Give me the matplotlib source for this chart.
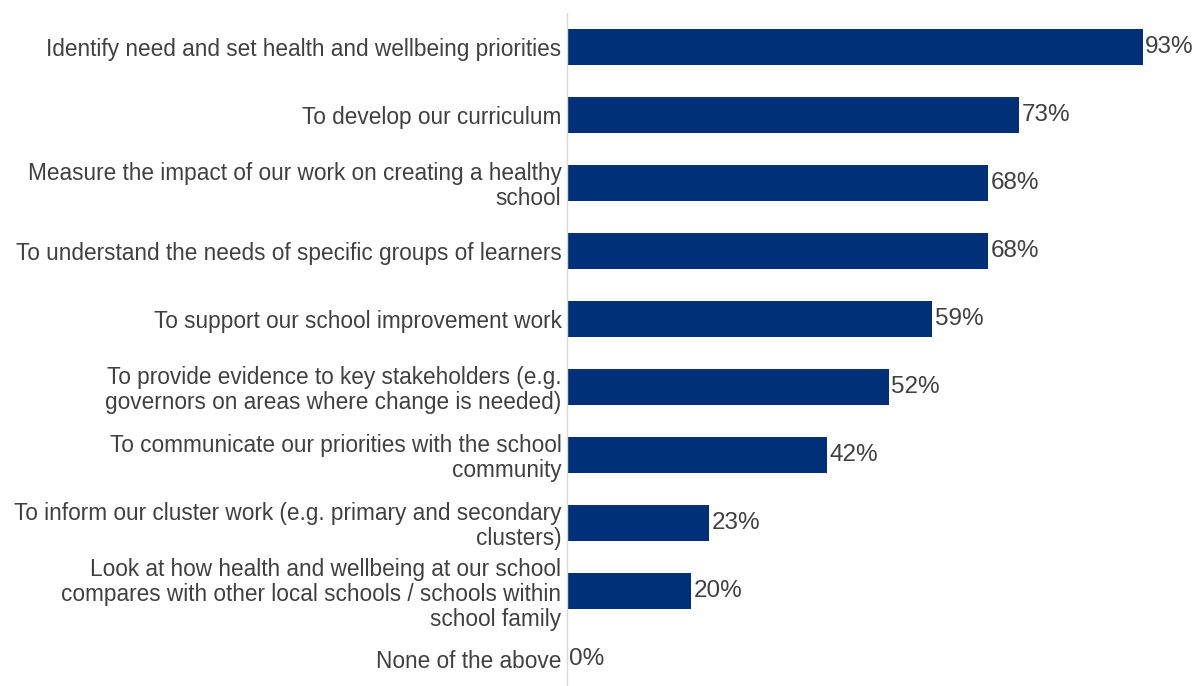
import matplotlib
matplotlib.use("Agg")
import matplotlib.pyplot as plt

labels = [
    "Identify need and set health and wellbeing priorities",
    "To develop our curriculum",
    "Measure the impact of our work on creating a healthy\nschool",
    "To understand the needs of specific groups of learners",
    "To support our school improvement work",
    "To provide evidence to key stakeholders (e.g.\ngovernors on areas where change is needed)",
    "To communicate our priorities with the school\ncommunity",
    "To inform our cluster work (e.g. primary and secondary\nclusters)",
    "Look at how health and wellbeing at our school\ncompares with other local schools / schools within\nschool family",
    "None of the above",
]
values = [93, 73, 68, 68, 59, 52, 42, 23, 20, 0]

plt.rcParams['font.family'] = ['Liberation Sans', 'DejaVu Sans']
navy = "#003078"
grey_text = "#404040"

fig = plt.figure(figsize=(11.98, 6.86), dpi=100)
ax = fig.add_axes([567 / 1198, 0, (1198 - 567) / 1198, 673 / 686])

ypos = list(range(len(values)))
ax.barh(ypos, values, height=0.53, color=navy)
for y, v in zip(ypos, values):
    ax.text(v + 0.4, y, "%d%%" % v, va="center", ha="left",
            fontsize=17.5, color=grey_text)

ax.set_yticks(ypos)
ax.set_yticklabels(labels, fontsize=16.3, color=grey_text, linespacing=1.1)
ax.tick_params(axis="y", length=0, pad=4)
ax.set_ylim(9.4, -0.5)
ax.set_xlim(0, 101.9)
ax.set_xticks([])

for s in ["top", "right", "bottom"]:
    ax.spines[s].set_visible(False)
ax.spines["left"].set_color("#d9d9d9")
ax.spines["left"].set_linewidth(1.0)

fig.savefig("out.png", dpi=100)
